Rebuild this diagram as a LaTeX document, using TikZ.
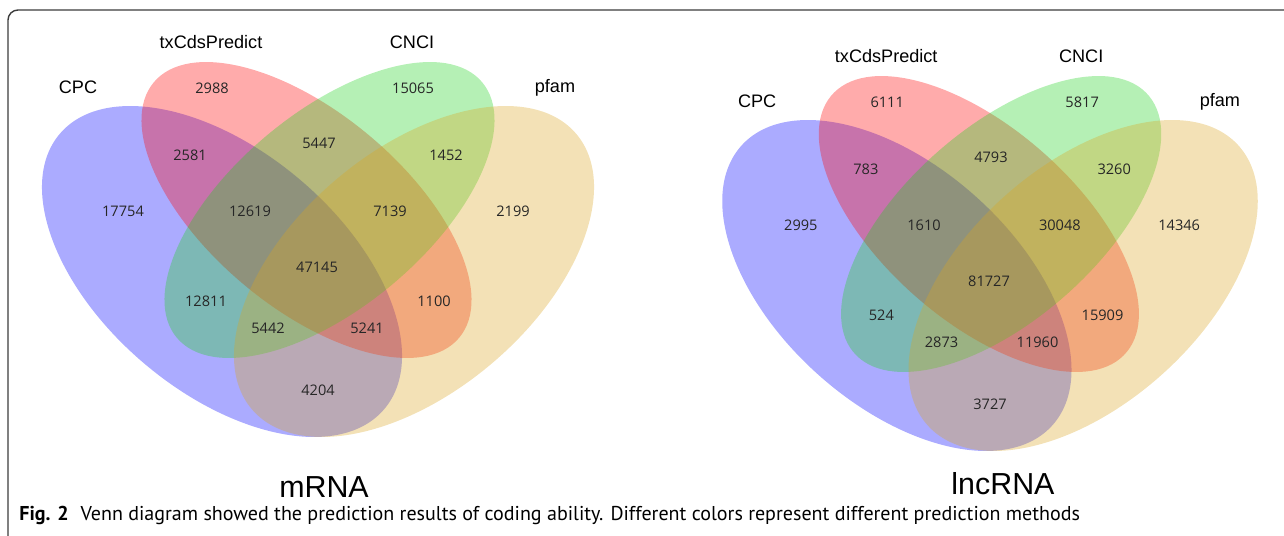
\documentclass[tikz,border=0pt]{standalone}
\usepackage{fontspec}
\usepackage{tikz}
\setmainfont{Liberation Sans}
\newfontfamily\numfont{Open Sans}
\newfontfamily\capfont{PT Sans}

\definecolor{cpcblue}{RGB}{0,0,255}
\definecolor{txred}{RGB}{255,0,0}
\definecolor{cncigreen}{RGB}{30,210,30}
\definecolor{pfamtan}{RGB}{218,165,32}
\definecolor{framegray}{RGB}{60,60,60}

% the four ellipses of one diagram
\newcommand{\drawvenn}{%
  \fill[cpcset] (-96,271.5) circle [x radius=4.256cm, y radius=2.41cm, rotate=-40.3];
  \fill[txset] (-11.5,210) circle [x radius=3.982cm, y radius=1.948cm, rotate=-39.9];
  \fill[cnciset] (11.5,210) circle [x radius=3.982cm, y radius=1.948cm, rotate=39.9];
  \fill[pfamset] (96,271.5) circle [x radius=4.256cm, y radius=2.41cm, rotate=40.3];
}

\begin{document}
\begin{tikzpicture}[x=0.02cm, y=-0.02cm,
    cpcset/.style={fill=cpcblue, fill opacity=0.33},
    txset/.style={fill=txred, fill opacity=0.33},
    cnciset/.style={fill=cncigreen, fill opacity=0.33},
    pfamset/.style={fill=pfamtan, fill opacity=0.33},
    num/.style={font=\numfont\fontsize{8.3}{9}\selectfont, text=black!85},
    setname/.style={font=\fontsize{10.3}{12}\selectfont},
    title/.style={font=\fontsize{17.3}{20}\selectfont}]
    \useasboundingbox (0,0) rectangle (1284,536);

    % Draw the frame
    \draw[framegray, line width=0.8pt, rounded corners=0.2cm] (8,536) -- (8,10) -- (1284,10);

    % mRNA diagram
    \begin{scope}[shift={(318,0)}]
        \drawvenn
        \node[setname] (mcpc) at (-240,87) {CPC};
        \node[setname] (mtx) at (-107,42) {txCdsPredict};
        \node[setname] (mcnci) at (94,42) {CNCI};
        \node[setname] (mpfam) at (237,88) {pfam};
        \foreach \nx/\ny/\val [count=\i] in {-106/88/2988, 95/88/15065, -195/211/17754,
            195/211/2199, -128/155/2581, 1/143/5447, 128/155/1452, -68/211/12619,
            72/211/7139, -1/267/47145, -112/301/12811, 116/301/1100, -50/328/5442,
            49/328/5241, 0/390/4204}
            \node[num] (m\i) at (\nx,\ny) {\val};
    \end{scope}

    % lncRNA diagram
    \begin{scope}[shift={(990,14)}, xscale=0.97]
        \drawvenn
        \node[setname] (lcpc) at (-240,87) {CPC};
        \node[setname] (ltx) at (-107,42) {txCdsPredict};
        \node[setname] (lcnci) at (94,42) {CNCI};
        \node[setname] (lpfam) at (237,88) {pfam};
        \foreach \nx/\ny/\val [count=\i] in {-106/88/6111, 95/88/5817, -195/211/2995,
            195/211/14346, -128/155/783, 1/143/4793, 128/155/3260, -68/211/1610,
            72/211/30048, -1/267/81727, -112/301/524, 116/301/15909, -50/328/2873,
            49/328/11960, 0/390/3727}
            \node[num] (l\i) at (\nx,\ny) {\val};
    \end{scope}

    % Titles and caption
    \node[title] (mrna) at (324,487) {mRNA};
    \node[title] (lncrna) at (1003,484) {lncRNA};
    \node[anchor=west, font=\capfont\fontsize{11.4}{13}\selectfont, inner sep=0pt] (caption) at (19,515)
        {\textbf{Fig. 2}\hspace{0.6em}Venn diagram showed the prediction results of coding ability. Different colors represent different prediction methods};
\end{tikzpicture}
\end{document}
